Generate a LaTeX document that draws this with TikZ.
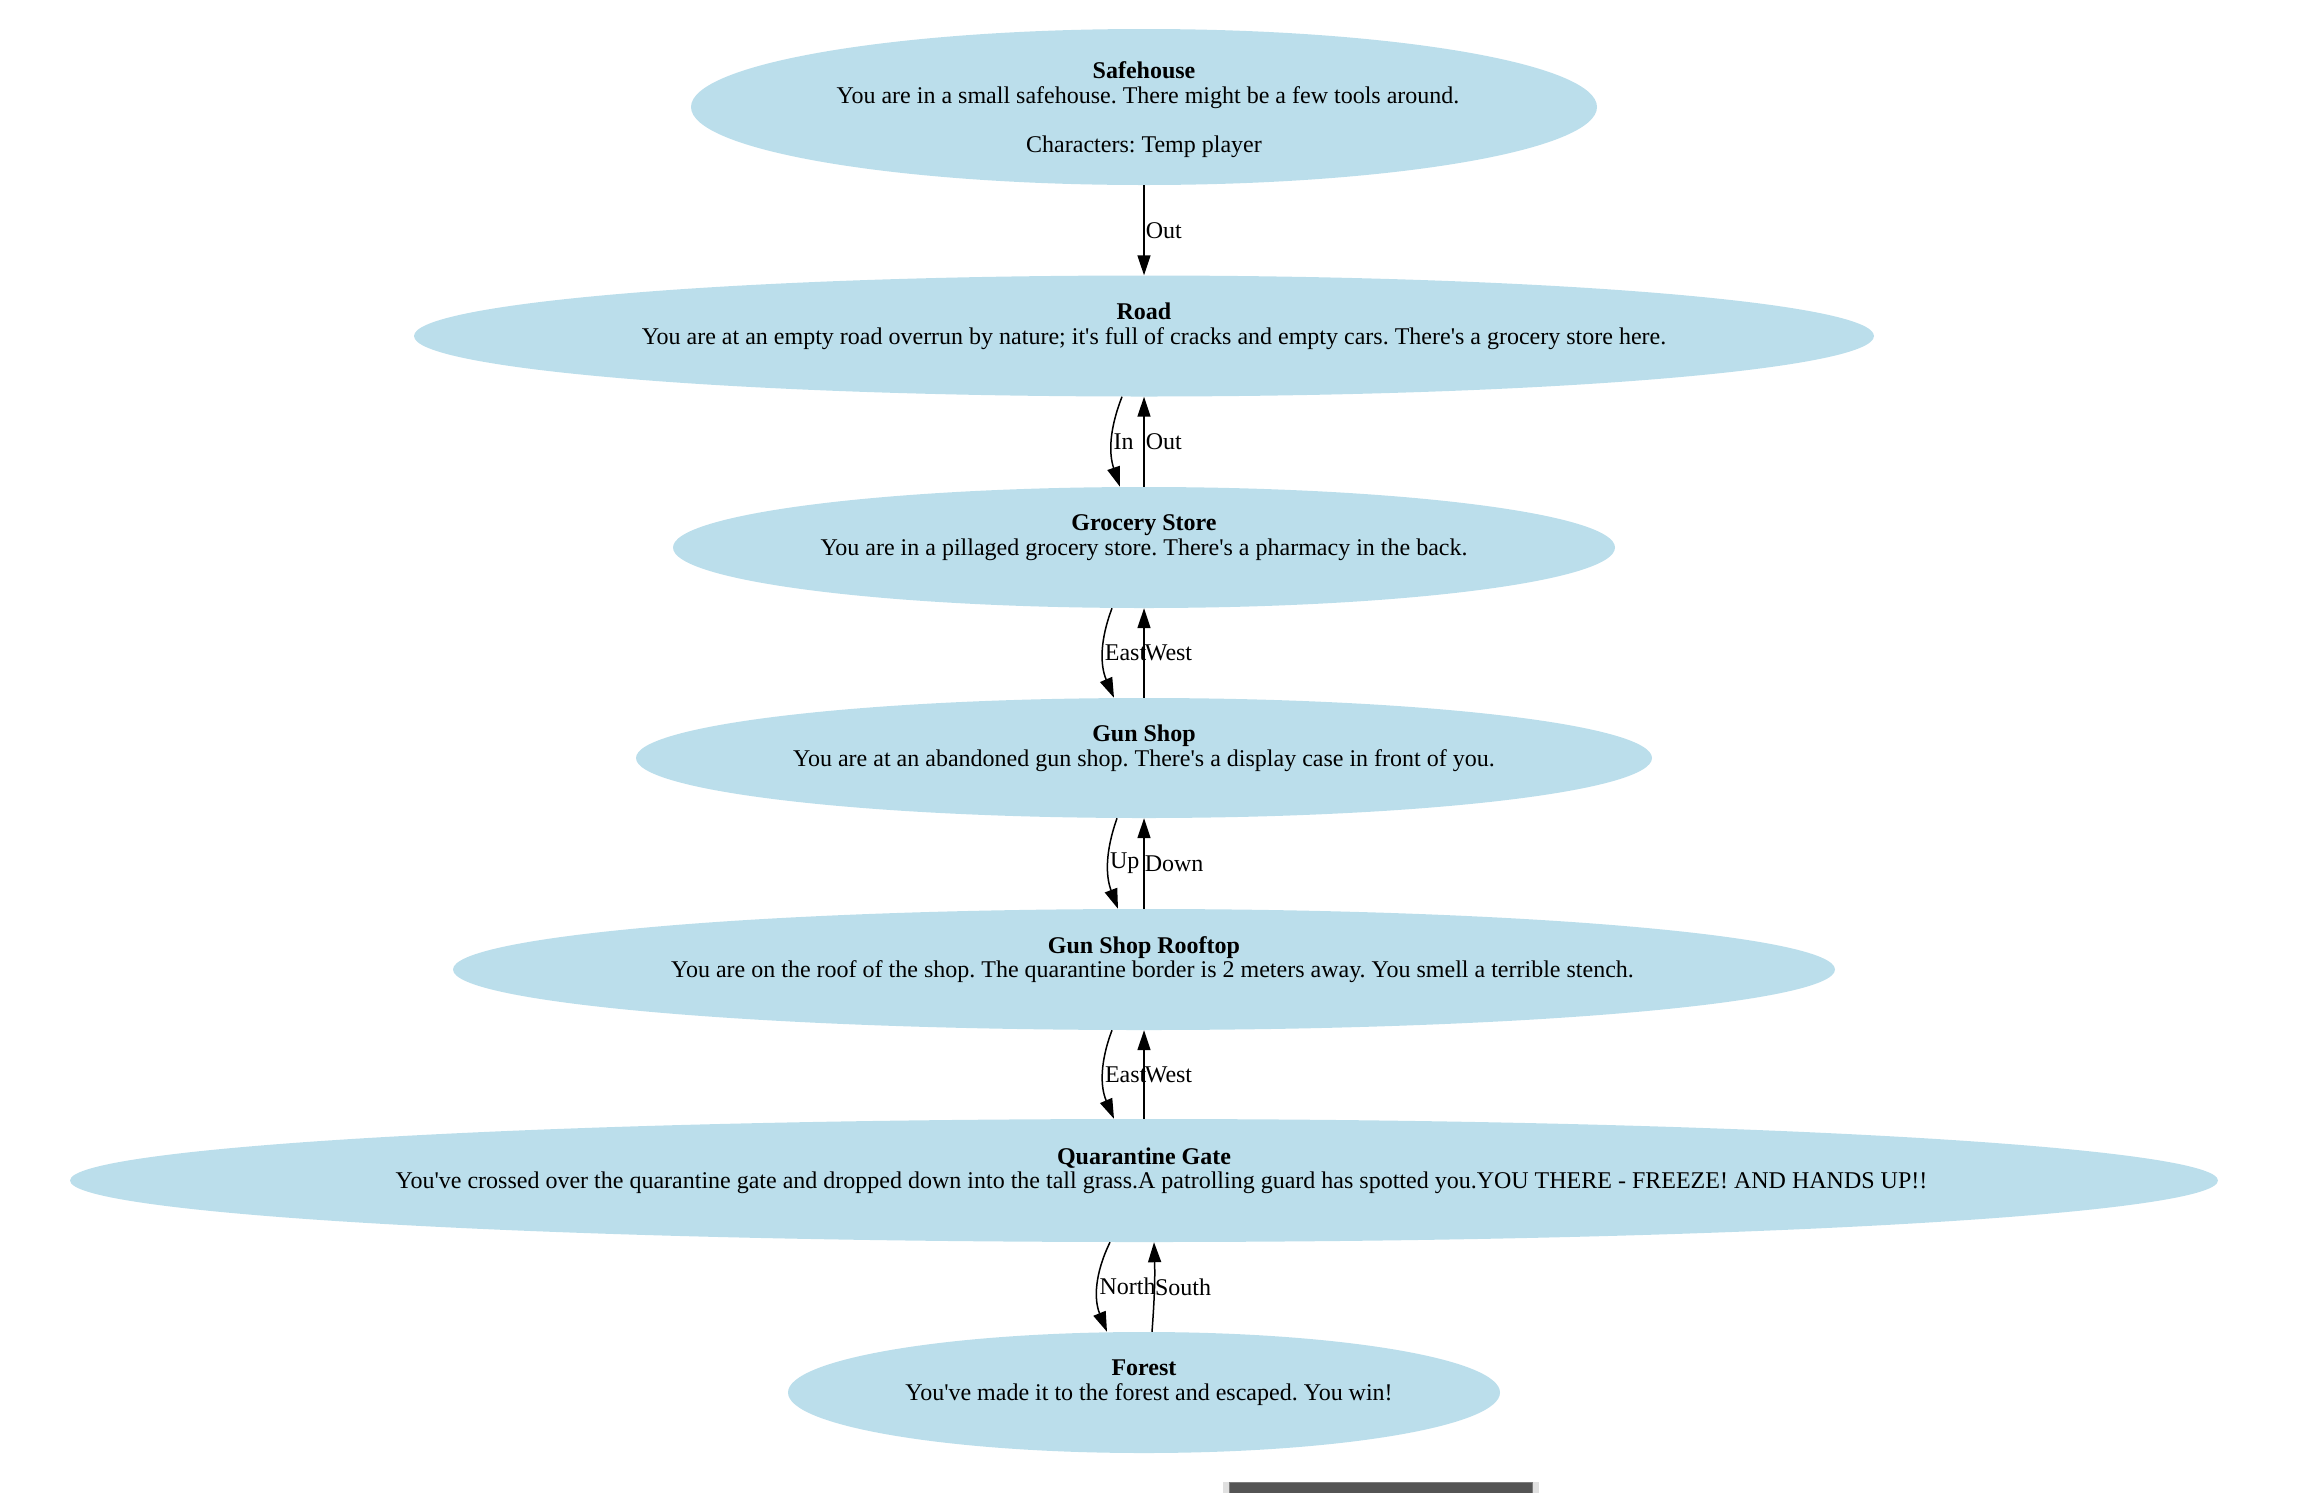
\documentclass[tikz,border=0pt]{standalone}
\usepackage{fontspec}
\setmainfont{Liberation Serif}
\usetikzlibrary{arrows.meta, shapes.geometric, shadows}
\definecolor{roomblue}{RGB}{187,222,235}
\definecolor{tipgray}{RGB}{84,84,84}
\definecolor{tipedge}{RGB}{125,125,125}
\newcommand\nudge[2]{\kern#1pt#2\kern-#1pt}
\frenchspacing

\begin{document}
\begin{tikzpicture}[x=1pt, y=-1pt,
    font=\fontsize{24}{24.5}\selectfont,
    room/.style = {ellipse, fill=roomblue, inner sep=0pt, align=center},
    way/.style = {-{Triangle[length=20pt, width=13pt]}, line width=1.5pt}]
    \useasboundingbox (0,0) rectangle (2298,1492);
    % \draw [help lines, step=100] (0,0) grid (2298,1492);
    \node (safehouse) [room, text depth=0pt, minimum width=906, minimum height=156] at (1144,107)
        {\textbf{Safehouse}\\\nudge{4}{You are in a small safehouse. There might be a few tools around.}\\\mbox{}\\Characters: Temp player};
    \node (road) [room, inner xsep=-6pt, minimum width=1460, minimum height=121] at (1144,336)
        {\textbf{Road}\\\nudge{10}{You are at an empty road overrun by nature; it\textquotesingle s full of cracks and empty cars. There\textquotesingle s a grocery store here.}\\\mbox{}};
    \node (grocery) [room, minimum width=942, minimum height=121] at (1144,547.5)
        {\textbf{Grocery Store}\\You are in a pillaged grocery store. There\textquotesingle s a pharmacy in the back.\\\mbox{}};
    \node (gunshop) [room, minimum width=1016, minimum height=120] at (1144,758)
        {\textbf{Gun Shop}\\You are at an abandoned gun shop. There\textquotesingle s a display case in front of you.\\\mbox{}};
    \node (rooftop) [room, minimum width=1382, minimum height=121] at (1144,969.5)
        {\textbf{Gun Shop Rooftop}\\\nudge{8.5}{You are on the roof of the shop. The quarantine border is 2 meters away. You smell a terrible stench.}\\\mbox{}};
    \node (gate) [room, inner xsep=-15pt, minimum width=2148, minimum height=123] at (1144,1180.5)
        {\textbf{Quarantine Gate}\\\nudge{17.5}{You\textquotesingle ve crossed over the quarantine gate and dropped down into the tall grass.A patrolling guard has spotted you.YOU THERE - FREEZE! AND HANDS UP!!}\\\mbox{}};
    \node (forest) [room, minimum width=712, minimum height=121] at (1144,1392.5)
        {\textbf{Forest}\\\nudge{5}{You\textquotesingle ve made it to the forest and escaped. You win!}\\\mbox{}};
    \node (tooltip) [anchor=north west, fill=tipgray, draw=tipedge, line width=1pt,
        general shadow={fill=black, opacity=0.12, shadow scale=1.04},
        minimum width=303, minimum height=40] at (1229,1482) {};

    \path [way]
        (safehouse) edge node [right, inner sep=1pt] {Out} (road)
        ([xshift=-22pt]road.south) edge [bend right=20] node [right, inner sep=1pt] {In} ([xshift=-24pt]grocery.north)
        (grocery) edge node [right, inner sep=1pt] {Out} (road)
        ([xshift=-32pt]grocery.south) edge [bend right=22] node [right, inner sep=1pt] {East} ([xshift=-30pt]gunshop.north)
        (gunshop) edge node [right, inner sep=0pt] {West} (grocery)
        ([xshift=-27pt]gunshop.south) edge [bend right=20] node [right, inner sep=1pt] {Up} ([xshift=-26pt]rooftop.north)
        (rooftop) edge node [right, inner sep=0pt] {Down} (gunshop)
        ([xshift=-32pt]rooftop.south) edge [bend right=22] node [right, inner sep=1pt] {East} ([xshift=-30pt]gate.north)
        (gate) edge node [right, inner sep=0pt] {West} (rooftop)
        ([xshift=-34pt]gate.south) edge [bend right=24] node [right, inner sep=1pt] {North} ([xshift=-37pt]forest.north)
        ([xshift=8pt]forest.north) edge [bend right=3] node [right, inner sep=0pt] {South} ([xshift=10pt]gate.south);
\end{tikzpicture}
\end{document}
